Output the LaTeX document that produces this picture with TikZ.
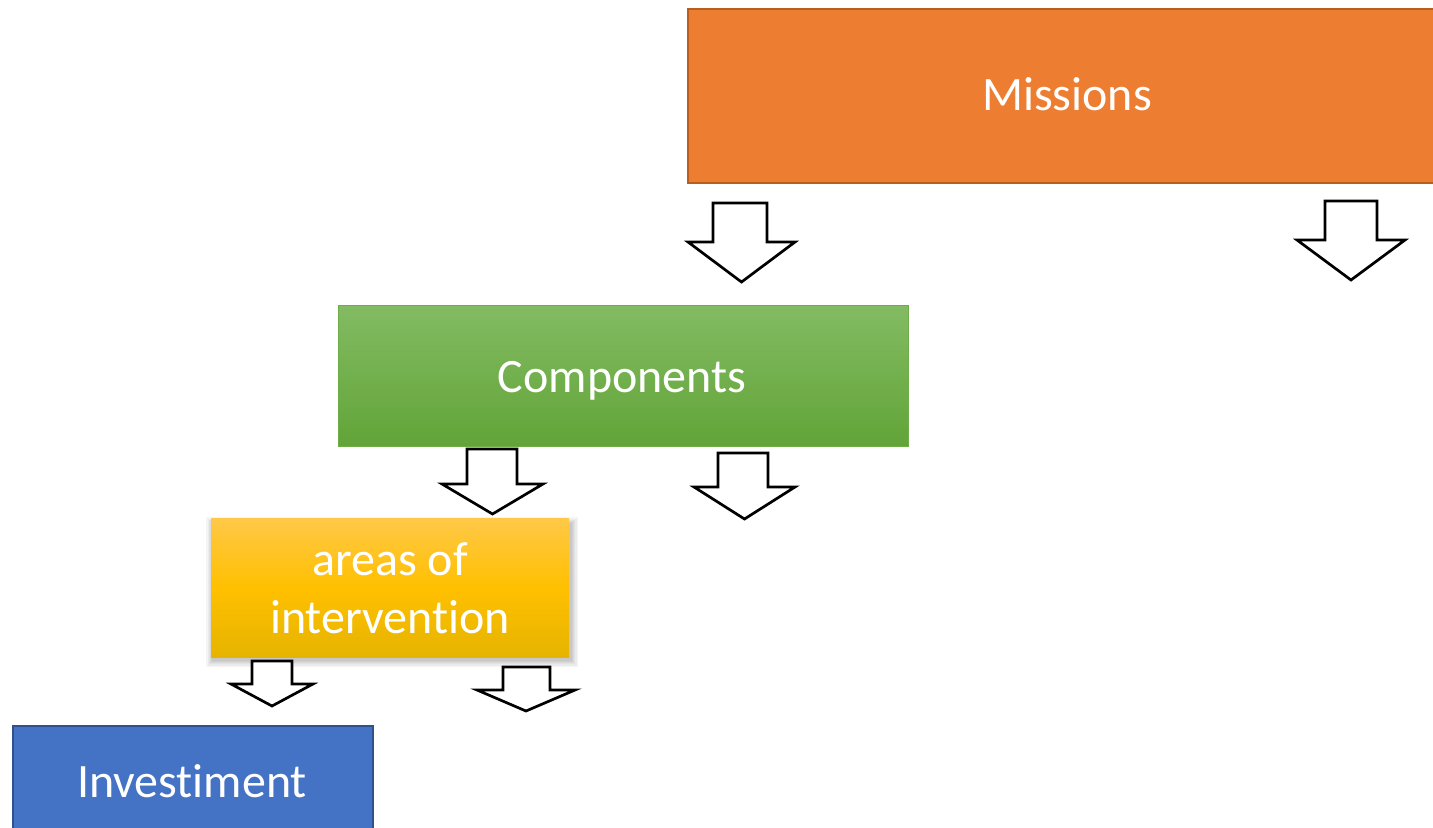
\documentclass[tikz,border=0pt]{standalone}
\usepackage{fontspec}
\setmainfont{Carlito}[Ligatures={NoCommon}]

% one unit of the drawing grid
\newlength\pxu
\setlength\pxu{0.02cm}

\definecolor{missionfill}{RGB}{237,125,49}
\definecolor{missionline}{RGB}{184,94,30}
\definecolor{compTop}{RGB}{131,187,99}
\definecolor{compBot}{RGB}{98,164,56}
\definecolor{compLine}{RGB}{112,173,71}
\definecolor{areaTop}{RGB}{255,200,72}
\definecolor{areaMid}{RGB}{255,192,0}
\definecolor{areaBot}{RGB}{230,180,0}
\definecolor{invFill}{RGB}{68,114,196}
\definecolor{invLine}{RGB}{47,82,143}

% hollow block arrow pointing down:
% shaft left, shaft right, shaft top, shoulder y, head left, head right, tip y
\newcommand{\blockdown}[7]{%
  \draw[blockarrow] (#1,#3) -- (#2,#3) -- (#2,#4) -- (#6,#4)
    -- ({(#5+#6)/2},#7) -- (#5,#4) -- (#1,#4) -- cycle;}

\begin{document}
\begin{tikzpicture}[x=0.02cm, y=-0.02cm,
  box/.style={rectangle, inner sep=0pt, outer sep=0pt},
  boxlabel/.style={text=white, font=\fontsize{27.3}{33}\selectfont,
    inner sep=0pt, anchor=base},
  blockarrow/.style={draw=black, fill=white, line width=2.7\pxu, line join=miter}]

\useasboundingbox (0,0) rectangle (1433,828);
\clip (0,0) rectangle (1433,828);

% Missions
\node[box, fill=missionfill, draw=missionline, line width=2.2\pxu,
  minimum width=758\pxu, minimum height=174\pxu] (missions) at (1067,96) {};
\node[boxlabel] (missionslabel) at (1067,111) {Missions};

% Components
\node[box, top color=compTop, bottom color=compBot, draw=compLine, line width=1\pxu,
  minimum width=570\pxu, minimum height=141\pxu] (components) at (623,375.5) {};
\node[boxlabel] (componentslabel) at (622,392) {Components};

% soft shadow under the areas box
\foreach \g in {1,...,6}
  \fill[black, opacity=0.04]
    ({211+2-\g*1.1},{518+6-\g*1.1}) rectangle ({569+2+\g*1.1},{657+3+\g*1.1});

% areas of intervention
\node[box, top color=areaTop, bottom color=areaBot, middle color=areaMid,
  minimum width=358\pxu, minimum height=139\pxu] (areas) at (390,587.5) {};
\node[boxlabel, align=center] (areaslabel) at (390,633) {areas of\\intervention};

% Investiment
\node[box, fill=invFill, draw=invLine, line width=2\pxu,
  minimum width=360\pxu, minimum height=140\pxu] (invest) at (193,796) {};
\node[boxlabel] (investlabel) at (192,797) {Investiment};

% block arrows
\blockdown{713}{767}{203}{242}{688}{795}{282}
\blockdown{1325}{1377}{201}{240}{1297}{1405}{280}
\blockdown{467}{517}{449}{484}{442}{543}{514}
\blockdown{718}{768}{453}{487}{694}{795}{519}
\blockdown{252}{292}{661}{684}{231}{313}{706}
\blockdown{503}{550}{667}{690}{477}{575}{711}

\end{tikzpicture}
\end{document}
